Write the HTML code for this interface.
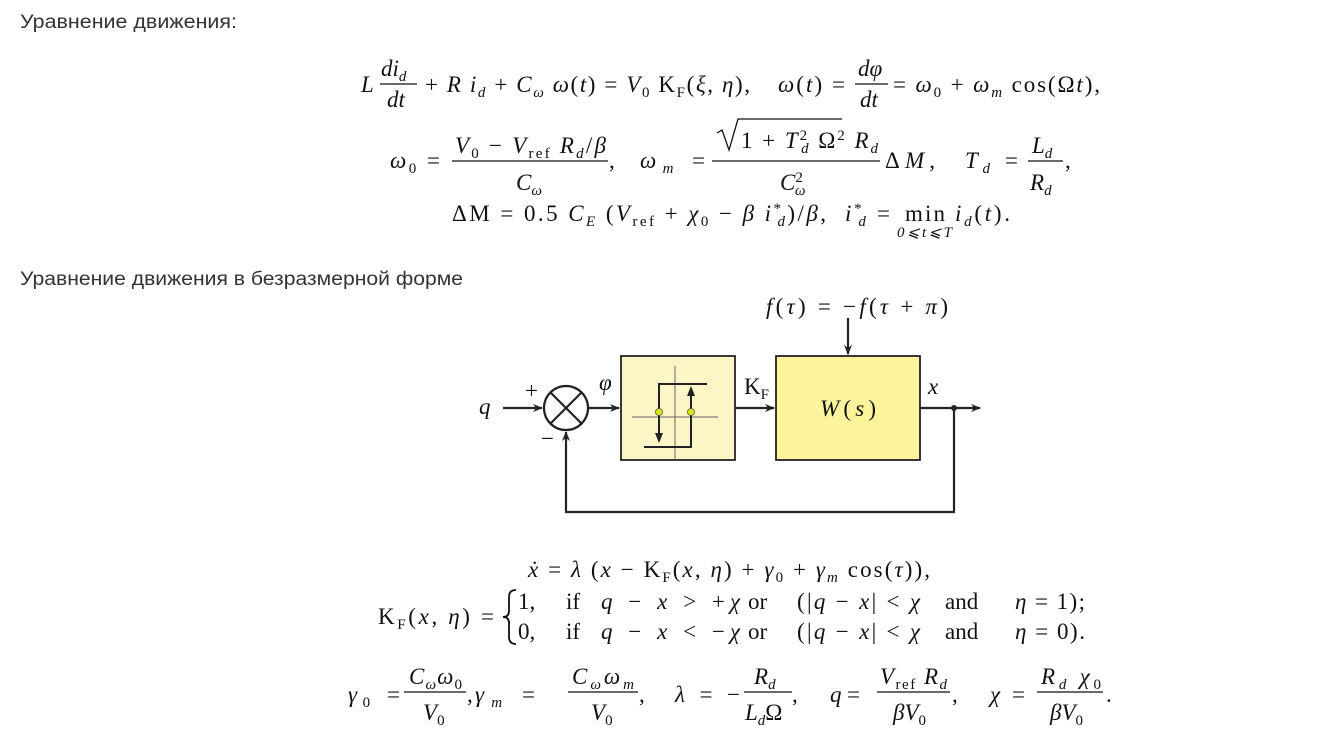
<!DOCTYPE html>
<html><head><meta charset="utf-8"><style>
html,body{margin:0;padding:0;background:#fff;width:1341px;height:732px;overflow:hidden}
svg{position:absolute;left:0;top:0}
.h{font-family:"Liberation Sans",sans-serif;font-size:19px;fill:#333}
.m{font-family:"Liberation Serif",serif;font-size:23px;fill:#111;font-style:italic}
.r{font-style:normal}
.s{font-size:15px}
</style></head><body>
<svg width="1341" height="732" viewBox="0 0 1341 732">
<defs><marker id="a" markerWidth="10" markerHeight="8" refX="9" refY="4" orient="auto" markerUnits="userSpaceOnUse"><path d="M0,0 L10,4 L0,8 L3,4 z" fill="#222"/></marker></defs>
<text class="h" x="20" y="28" textLength="217" lengthAdjust="spacingAndGlyphs">Уравнение движения:</text>
<text class="h" x="20" y="285" textLength="443" lengthAdjust="spacingAndGlyphs">Уравнение движения в безразмерной форме</text>

<g class="m">
<text x="361" y="92">L</text>
<text x="381" y="76">di<tspan class="s" dy="5">d</tspan></text>
<line x1="380" y1="84" x2="417" y2="84" stroke="#111" stroke-width="1.2"/>
<text x="387" y="107">dt</text>
<text x="425" y="92" textLength="325" lengthAdjust="spacing"><tspan class="r">+</tspan> R i<tspan class="s" dy="5">d</tspan><tspan dy="-5" class="r"> + </tspan>C<tspan class="s" dy="5">ω</tspan><tspan dy="-5"> ω</tspan><tspan class="r">(</tspan>t<tspan class="r">) = </tspan>V<tspan class="s r" dy="5">0</tspan><tspan dy="-5" class="r"> K</tspan><tspan class="s r" dy="5">F</tspan><tspan dy="-5" class="r">(</tspan>ξ<tspan class="r">, </tspan>η<tspan class="r">),</tspan></text>
<text x="778" y="92" textLength="67" lengthAdjust="spacing">ω<tspan class="r">(</tspan>t<tspan class="r">) =</tspan></text>
<text x="858" y="76">dφ</text>
<line x1="855" y1="84" x2="888" y2="84" stroke="#111" stroke-width="1.2"/>
<text x="860" y="107">dt</text>
<text x="893" y="92" textLength="207" lengthAdjust="spacing"><tspan class="r">= </tspan>ω<tspan class="s r" dy="5">0</tspan><tspan dy="-5" class="r"> + </tspan>ω<tspan class="s" dy="5">m</tspan><tspan dy="-5" class="r"> cos(Ω</tspan>t<tspan class="r">),</tspan></text>

<text x="390" y="168" textLength="50" lengthAdjust="spacing">ω<tspan class="s r" dy="5">0</tspan><tspan dy="-5" class="r"> =</tspan></text>
<text x="455" y="153" textLength="151" lengthAdjust="spacing">V<tspan class="s r" dy="5">0</tspan><tspan dy="-5" class="r"> − </tspan>V<tspan class="s r" dy="5">ref</tspan><tspan dy="-5"> R</tspan><tspan class="s" dy="5">d</tspan><tspan dy="-5" class="r">/</tspan>β</text>
<line x1="452" y1="161" x2="608" y2="161" stroke="#111" stroke-width="1.2"/>
<text x="516" y="190">C<tspan class="s" dy="5">ω</tspan></text>
<text x="609" y="168" class="r">,</text>
<text x="640" y="168" textLength="65" lengthAdjust="spacing">ω<tspan class="s" dy="5">m</tspan><tspan dy="-5" class="r"> =</tspan></text>
<path d="M717,133 L722,130 L729,150 L738,119 L842,119" fill="none" stroke="#111" stroke-width="1.3"/>
<text x="741" y="148" textLength="137" lengthAdjust="spacing"><tspan class="r">1 + </tspan>T<tspan class="s r" dy="-8">2</tspan><tspan class="s" dx="-8" dy="13">d</tspan><tspan dy="-5" class="r"> Ω</tspan><tspan class="s r" dy="-8">2</tspan><tspan dy="8"> R</tspan><tspan class="s" dy="5">d</tspan></text>
<line x1="712" y1="161" x2="880" y2="161" stroke="#111" stroke-width="1.2"/>
<text x="780" y="190">C<tspan class="s r" dy="-8">2</tspan><tspan class="s" dx="-8" dy="13">ω</tspan></text>
<text x="885" y="168" textLength="50" lengthAdjust="spacing"><tspan class="r">Δ</tspan>M<tspan class="r">,</tspan></text>
<text x="965" y="168" textLength="53" lengthAdjust="spacing">T<tspan class="s" dy="5">d</tspan><tspan dy="-5" class="r"> =</tspan></text>
<text x="1032" y="153">L<tspan class="s" dy="5">d</tspan></text>
<line x1="1028" y1="161" x2="1063" y2="161" stroke="#111" stroke-width="1.2"/>
<text x="1030" y="190">R<tspan class="s" dy="5">d</tspan></text>
<text x="1065" y="168" class="r">,</text>

<text x="452" y="221" textLength="374" lengthAdjust="spacing"><tspan class="r">ΔM = 0.5 </tspan>C<tspan class="s" dy="5">E</tspan><tspan dy="-5" class="r"> (</tspan>V<tspan class="s r" dy="5">ref</tspan><tspan dy="-5" class="r"> + </tspan>χ<tspan class="s r" dy="5">0</tspan><tspan dy="-5" class="r"> − </tspan>β i<tspan class="s r" dy="-8">*</tspan><tspan class="s" dx="-6" dy="13">d</tspan><tspan dy="-5" class="r">)/</tspan>β<tspan class="r">,</tspan></text>
<text x="845" y="221" textLength="45" lengthAdjust="spacing">i<tspan class="s r" dy="-8">*</tspan><tspan class="s" dx="-6" dy="13">d</tspan><tspan dy="-5" class="r"> =</tspan></text>
<text x="905" y="221" class="r" textLength="40" lengthAdjust="spacing">min</text>
<text x="897" y="237" class="s" textLength="55">0⩽t⩽T</text>
<text x="955" y="221" textLength="55" lengthAdjust="spacing">i<tspan class="s" dy="5">d</tspan><tspan dy="-5" class="r">(</tspan>t<tspan class="r">).</tspan></text>
</g>

<g stroke="#222" stroke-width="2.2" fill="none">
<rect x="621" y="356" width="114" height="104" fill="#fcf6c6" stroke-width="1.8"/>
<rect x="776" y="356" width="144" height="104" fill="#fbf49a" stroke-width="1.8"/>
<circle cx="566" cy="408" r="22" fill="#fff"/>
<line x1="550" y1="392" x2="582" y2="424"/><line x1="582" y1="392" x2="550" y2="424"/>
<line x1="503" y1="408" x2="542" y2="408" marker-end="url(#a)"/>
<line x1="588" y1="408" x2="619" y2="408" marker-end="url(#a)"/>
<line x1="735" y1="408" x2="774" y2="408" marker-end="url(#a)"/>
<line x1="920" y1="408" x2="980" y2="408" marker-end="url(#a)"/>
<polyline points="954,408 954,512 566,512 566,432" marker-end="url(#a)"/>
<line x1="848" y1="318" x2="848" y2="354" marker-end="url(#a)"/>
<g stroke="#666" stroke-width="1"><line x1="675" y1="366" x2="675" y2="460"/><line x1="632" y1="417" x2="718" y2="417"/></g>
<polyline points="707,384 659,384 659,441" stroke-width="2"/>
<polyline points="644,447 691,447 691,390" stroke-width="2"/>
<path d="M659,443 l-4,-10 l8,0 z M691,386 l-4,10 l8,0 z" fill="#222" stroke="none"/>
<path d="M516,590 q-7,0 -7,7 v14 q0,6 -6,6 q6,0 6,6 v14 q0,7 7,7" stroke="#111" stroke-width="1.8"/>
</g>
<circle cx="954" cy="408" r="3" fill="#222"/>
<circle cx="659" cy="412" r="3.5" fill="#d6ec1a" stroke="#555" stroke-width="0.8"/>
<circle cx="691" cy="412" r="3.5" fill="#d6ec1a" stroke="#555" stroke-width="0.8"/>
<g class="m">
<text x="766" y="314" textLength="182" lengthAdjust="spacing">f<tspan class="r">(</tspan>τ<tspan class="r">) = −</tspan>f<tspan class="r">(</tspan>τ<tspan class="r"> + </tspan>π<tspan class="r">)</tspan></text>
<text x="479" y="414">q</text>
<text x="525" y="398" class="r">+</text>
<text x="541" y="446" class="r">−</text>
<text x="599" y="390">φ</text>
<text x="744" y="394" class="r">K<tspan class="s" dy="5">F</tspan></text>
<text x="928" y="394">x</text>
<text x="820" y="416" textLength="56" lengthAdjust="spacing">W<tspan class="r">(</tspan>s<tspan class="r">)</tspan></text>

<text x="528" y="577" textLength="402" lengthAdjust="spacing">ẋ<tspan class="r"> = </tspan>λ<tspan class="r"> (</tspan>x<tspan class="r"> − K</tspan><tspan class="s r" dy="5">F</tspan><tspan dy="-5" class="r">(</tspan>x<tspan class="r">, </tspan>η<tspan class="r">) + </tspan>γ<tspan class="s r" dy="5">0</tspan><tspan dy="-5" class="r"> + </tspan>γ<tspan class="s" dy="5">m</tspan><tspan dy="-5" class="r"> cos(</tspan>τ<tspan class="r">)),</tspan></text>
<text x="378" y="624" textLength="116" lengthAdjust="spacing"><tspan class="r">K</tspan><tspan class="s r" dy="5">F</tspan><tspan dy="-5" class="r">(</tspan>x<tspan class="r">, </tspan>η<tspan class="r">) =</tspan></text>
<text x="518" y="609" class="r">1,</text><text x="566" y="609" class="r">if</text>
<text x="601" y="609" textLength="139" lengthAdjust="spacing">q<tspan class="r"> − </tspan>x<tspan class="r"> &gt; +</tspan>χ</text>
<text x="748" y="609" class="r">or</text>
<text x="797" y="609" textLength="123" lengthAdjust="spacing"><tspan class="r">(|</tspan>q<tspan class="r"> − </tspan>x<tspan class="r">| &lt; </tspan>χ</text>
<text x="945" y="609" class="r">and</text>
<text x="1015" y="609" textLength="70" lengthAdjust="spacing">η<tspan class="r"> = 1);</tspan></text>
<text x="518" y="639" class="r">0,</text><text x="566" y="639" class="r">if</text>
<text x="601" y="639" textLength="139" lengthAdjust="spacing">q<tspan class="r"> − </tspan>x<tspan class="r"> &lt; −</tspan>χ</text>
<text x="748" y="639" class="r">or</text>
<text x="797" y="639" textLength="123" lengthAdjust="spacing"><tspan class="r">(|</tspan>q<tspan class="r"> − </tspan>x<tspan class="r">| &lt; </tspan>χ</text>
<text x="945" y="639" class="r">and</text>
<text x="1015" y="639" textLength="70" lengthAdjust="spacing">η<tspan class="r"> = 0).</tspan></text>

<text x="348" y="702" textLength="52" lengthAdjust="spacing">γ<tspan class="s r" dy="5">0</tspan><tspan dy="-5" class="r"> =</tspan></text>
<text x="409" y="684" textLength="53" lengthAdjust="spacing">C<tspan class="s" dy="5">ω</tspan><tspan dy="-5">ω</tspan><tspan class="s r" dy="5">0</tspan></text>
<line x1="404" y1="692" x2="466" y2="692" stroke="#111" stroke-width="1.2"/>
<text x="423" y="720">V<tspan class="s r" dy="5">0</tspan></text>
<text x="467" y="702" class="r">,</text>
<text x="475" y="702" textLength="60" lengthAdjust="spacing">γ<tspan class="s" dy="5">m</tspan><tspan dy="-5" class="r"> =</tspan></text>
<text x="572" y="684" textLength="62" lengthAdjust="spacing">C<tspan class="s" dy="5">ω</tspan><tspan dy="-5">ω</tspan><tspan class="s" dy="5">m</tspan></text>
<line x1="568" y1="692" x2="638" y2="692" stroke="#111" stroke-width="1.2"/>
<text x="591" y="720">V<tspan class="s r" dy="5">0</tspan></text>
<text x="639" y="702" class="r">,</text>
<text x="675" y="702" textLength="65" lengthAdjust="spacing">λ<tspan class="r"> = −</tspan></text>
<text x="754" y="684">R<tspan class="s" dy="5">d</tspan></text>
<line x1="744" y1="692" x2="792" y2="692" stroke="#111" stroke-width="1.2"/>
<text x="745" y="720">L<tspan class="s" dy="5">d</tspan><tspan dy="-5" class="r">Ω</tspan></text>
<text x="792" y="702" class="r">,</text>
<text x="830" y="702" textLength="30" lengthAdjust="spacing">q<tspan class="r"> =</tspan></text>
<text x="880" y="684" textLength="67" lengthAdjust="spacing">V<tspan class="s r" dy="5">ref</tspan><tspan dy="-5"> R</tspan><tspan class="s" dy="5">d</tspan></text>
<line x1="877" y1="692" x2="950" y2="692" stroke="#111" stroke-width="1.2"/>
<text x="893" y="720">βV<tspan class="s r" dy="5">0</tspan></text>
<text x="952" y="702" class="r">,</text>
<text x="990" y="702" textLength="35" lengthAdjust="spacing">χ<tspan class="r"> =</tspan></text>
<text x="1041" y="684" textLength="60" lengthAdjust="spacing">R<tspan class="s" dy="5">d</tspan><tspan dy="-5"> χ</tspan><tspan class="s r" dy="5">0</tspan></text>
<line x1="1037" y1="692" x2="1103" y2="692" stroke="#111" stroke-width="1.2"/>
<text x="1050" y="720">βV<tspan class="s r" dy="5">0</tspan></text>
<text x="1106" y="702" class="r">.</text>
</g>
</svg>
</body></html>
